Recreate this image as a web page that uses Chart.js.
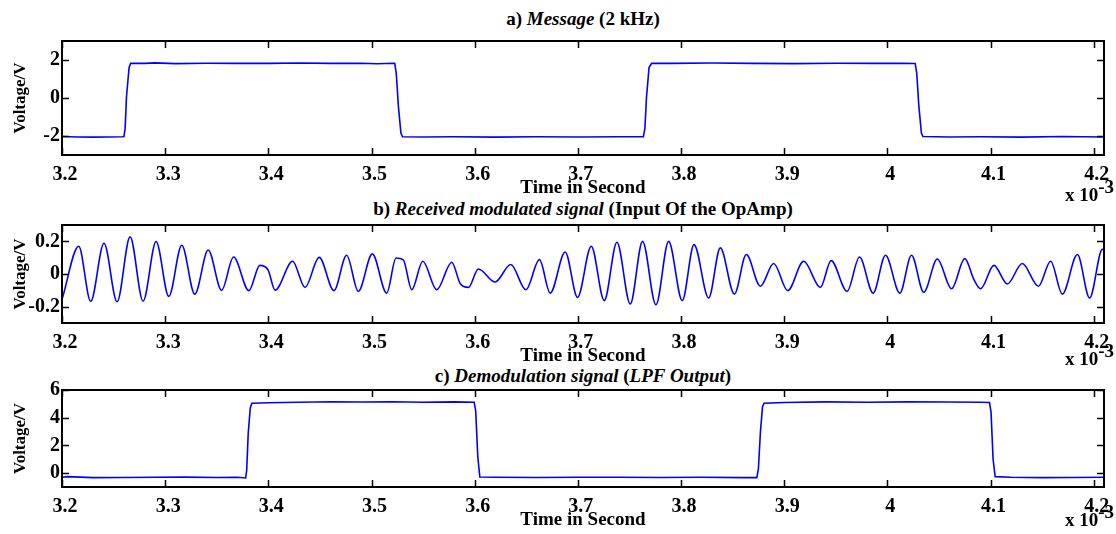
<!DOCTYPE html>
<html>
<head>
<meta charset="utf-8">
<script src="https://cdn.jsdelivr.net/npm/chart.js@4"></script>
<style>
  body { margin: 0; background: #fff; font-family: "Liberation Serif", "Times New Roman", serif; }
  #wrap { position: relative; width: 1116px; height: 534px; overflow: hidden; background: #fff; }
  canvas { position: absolute; left: 0; }
  .title { position: absolute; left: 62px; width: 1042px; text-align: center; font-weight: bold; font-size: 19px; line-height: 20px; color: #000; }
  .exp { position: absolute; left: 1065px; font-weight: bold; font-size: 19px; line-height: 19px; color: #000; white-space: nowrap; }
  .exp sup { font-size: 19px; vertical-align: 8px; line-height: 0; }
</style>
</head>
<body>
<div id="wrap">
  <div class="title" style="top:9px">a) <i>Message</i> (2 kHz)</div>
  <div class="title" style="top:199px">b) <i>Received modulated signal</i> (Input Of the OpAmp)</div>
  <div class="title" style="top:366px">c) <i>Demodulation signal</i> (<i>LPF Output</i>)</div>
  <canvas id="chartA" width="1116" height="170" style="top:29px"></canvas>
  <canvas id="chartB" width="1116" height="154" style="top:213px"></canvas>
  <canvas id="chartC" width="1116" height="153" style="top:378px"></canvas>
  <div class="exp" style="top:185px">x 10<sup>-3</sup></div>
  <div class="exp" style="top:349px">x 10<sup>-3</sup></div>
  <div class="exp" style="top:510px">x 10<sup>-3</sup></div>
</div>
<script>
// time axis (x 10^-3 s)
const xTicks = [3.2, 3.3, 3.4, 3.5, 3.6, 3.7, 3.8, 3.9, 4.0, 4.1, 4.2];

// a) message, square wave
const msgTime = [3.200, 3.215, 3.230, 3.245, 3.2585, 3.2600, 3.2612, 3.2625, 3.2650, 3.2665, 3.280, 3.290, 3.310,
  3.340, 3.370, 3.400, 3.430, 3.460, 3.490, 3.505, 3.5225, 3.5240, 3.5260, 3.5285, 3.5300, 3.550, 3.580, 3.620,
  3.660, 3.700, 3.740, 3.7635, 3.7650, 3.7665, 3.7690, 3.7715, 3.790, 3.830, 3.870, 3.910, 3.950, 3.990, 4.015,
  4.0270, 4.0285, 4.0305, 4.0330, 4.0345, 4.060, 4.090, 4.130, 4.170, 4.210];
const msgVolt = [-2.03, -2.05, -2.06, -2.05, -2.04, -2.03, -1.60, 0.05, 1.59, 1.83, 1.82, 1.85, 1.81,
  1.83, 1.82, 1.82, 1.84, 1.82, 1.83, 1.80, 1.83, 1.30, -0.40, -1.85, -2.04, -2.05, -2.04, -2.06,
  -2.04, -2.05, -2.04, -2.04, -1.60, 0.00, 1.60, 1.83, 1.82, 1.84, 1.82, 1.81, 1.83, 1.82, 1.83,
  1.82, 1.30, -0.40, -1.85, -2.03, -2.05, -2.04, -2.06, -2.03, -2.05];

// b) received modulated signal, peaks, troughs and a few shoulders
const modTime = [3.2004, 3.2162, 3.2278, 3.2407, 3.2534, 3.2660, 3.2786, 3.2912, 3.3035, 3.3161, 3.3287, 3.3417,
  3.3547, 3.3663, 3.3811, 3.3918, 3.3996, 3.4066, 3.4235, 3.4355, 3.4493, 3.4636, 3.4759, 3.4872, 3.5008, 3.5147,
  3.5238, 3.5308, 3.5390, 3.5497, 3.5632, 3.5778, 3.5861, 3.5939, 3.6036, 3.6198, 3.6350, 3.6496, 3.6628, 3.6732,
  3.6877, 3.6997, 3.7130, 3.7256, 3.7379, 3.7508, 3.7627, 3.7757, 3.7880, 3.8012, 3.8126, 3.8268, 3.8381, 3.8517,
  3.8633, 3.8769, 3.8898, 3.9034, 3.9189, 3.9351, 3.9455, 3.9610, 3.9730, 3.9862, 3.9982, 4.0121, 4.0234, 4.0353,
  4.0484, 4.0622, 4.0751, 4.0839, 4.0904, 4.1033, 4.1163, 4.1308, 4.1464, 4.1583, 4.1696, 4.1842, 4.1961, 4.2084,
  4.2100];
const modVolt = [-0.147, 0.170, -0.167, 0.188, -0.170, 0.227, -0.167, 0.199, -0.137, 0.176, -0.123, 0.147,
  -0.100, 0.104, -0.102, 0.053, 0.027, -0.099, 0.078, -0.082, 0.102, -0.102, 0.115, -0.106, 0.123, -0.117,
  0.098, 0.087, -0.096, 0.078, -0.096, 0.072, -0.060, -0.082, 0.031, -0.049, 0.058, -0.096, 0.088, -0.117,
  0.135, -0.143, 0.170, -0.163, 0.194, -0.184, 0.200, -0.188, 0.200, -0.163, 0.180, -0.147, 0.160, -0.123,
  0.119, -0.075, 0.064, -0.102, 0.078, -0.082, 0.082, -0.106, 0.104, -0.117, 0.115, -0.117, 0.115, -0.112,
  0.092, -0.090, 0.094, -0.034, -0.090, 0.053, -0.061, 0.064, -0.075, 0.078, -0.123, 0.119, -0.147, 0.151,
  0.150];

// c) demodulated (LPF output)
const demTime = [3.200, 3.205, 3.230, 3.260, 3.290, 3.320, 3.350, 3.370, 3.3780, 3.3790, 3.3805, 3.3825, 3.3840,
  3.400, 3.430, 3.460, 3.490, 3.520, 3.550, 3.580, 3.5995, 3.6010, 3.6030, 3.6050, 3.620, 3.660, 3.700, 3.740,
  3.780, 3.820, 3.860, 3.8735, 3.8750, 3.8770, 3.8790, 3.8805, 3.900, 3.940, 3.980, 4.020, 4.060, 4.090, 4.0990,
  4.1005, 4.1025, 4.1045, 4.120, 4.150, 4.180, 4.210];
const demVolt = [-0.30, -0.25, -0.32, -0.31, -0.30, -0.29, -0.31, -0.30, -0.35, 0.20, 2.86, 4.70, 5.05,
  5.08, 5.12, 5.15, 5.13, 5.15, 5.12, 5.14, 5.12, 4.50, 1.20, -0.28, -0.30, -0.31, -0.30, -0.30,
  -0.31, -0.30, -0.32, -0.32, 0.30, 3.00, 4.80, 5.05, 5.10, 5.14, 5.12, 5.14, 5.13, 5.12, 5.10,
  4.40, 1.00, -0.25, -0.30, -0.32, -0.31, -0.30];

const tickFont = { family: '"Liberation Serif", serif', size: 20, weight: 'bold' };
const titleFont = { family: '"Liberation Serif", serif', size: 19, weight: 'bold' };
const yTitleFont = { family: '"Liberation Serif", serif', size: 17, weight: 'bold' };

// box round the plot, ticks drawn inward on all four sides
const frame = {
  id: 'frame',
  afterDraw(chart) {
    const { ctx, chartArea: a, scales: { x, y } } = chart;
    ctx.save();
    ctx.strokeStyle = '#000';
    ctx.lineWidth = 1.5;
    ctx.beginPath();
    x.ticks.forEach(t => {
      const p = Math.round(x.getPixelForValue(t.value)) + 0.5;
      ctx.moveTo(p, a.bottom); ctx.lineTo(p, a.bottom - 7);
      ctx.moveTo(p, a.top); ctx.lineTo(p, a.top + 7);
    });
    y.ticks.forEach(t => {
      const p = Math.round(y.getPixelForValue(t.value)) + 0.5;
      ctx.moveTo(a.left, p); ctx.lineTo(a.left + 7, p);
      ctx.moveTo(a.right, p); ctx.lineTo(a.right - 7, p);
    });
    ctx.stroke();
    ctx.lineWidth = 2;
    ctx.strokeRect(a.left, a.top, a.right - a.left, a.bottom - a.top);
    ctx.restore();
  }
};

function fmt(v) { return String(+v.toFixed(1)); }

function makeChart(id, xs, ys, yMin, yMax, yTicks, smooth) {
  return new Chart(document.getElementById(id), {
    type: 'line',
    data: {
      datasets: [{
        data: xs.map((x, i) => ({ x: x, y: ys[i] })),
        borderColor: '#0000ff',
        borderWidth: 1.6,
        pointRadius: 0,
        fill: false,
        cubicInterpolationMode: smooth ? 'monotone' : 'default',
        tension: 0
      }]
    },
    options: {
      responsive: false,
      animation: false,
      layout: { padding: { top: 12, right: 12, left: 0, bottom: 0 } },
      plugins: { legend: { display: false }, tooltip: { enabled: false } },
      scales: {
        x: {
          type: 'linear', min: 3.2, max: 4.21,
          afterBuildTicks: s => { s.ticks = xTicks.map(v => ({ value: v })); },
          afterFit: s => { s.height = 44; s.paddingLeft = 0; s.paddingRight = 0; },
          grid: { display: false, drawTicks: false },
          border: { display: false },
          ticks: { color: '#000', font: tickFont, padding: 8, labelOffset: 3, autoSkip: false, maxRotation: 0,
                   callback: v => fmt(v) },
          title: { display: true, text: 'Time in Second', color: '#000', font: titleFont, padding: 0 }
        },
        y: {
          min: yMin, max: yMax,
          afterBuildTicks: s => { s.ticks = yTicks.map(v => ({ value: v })); },
          afterFit: s => { s.width = 62; s.paddingTop = 0; s.paddingBottom = 0; },
          grid: { display: false, drawTicks: false },
          border: { display: false },
          ticks: { color: '#000', font: tickFont, padding: 2, callback: v => String(v) },
          title: { display: true, text: 'Voltage/V', color: '#000', font: yTitleFont, padding: { top: 10, bottom: 0 } }
        }
      }
    },
    plugins: [frame]
  });
}

makeChart('chartA', msgTime, msgVolt, -3, 3, [-2, 0, 2], false);
makeChart('chartB', modTime, modVolt, -0.3, 0.3, [-0.2, 0, 0.2], true);
makeChart('chartC', demTime, demVolt, -1, 6, [0, 2, 4, 6], false);
</script>
</body>
</html>
